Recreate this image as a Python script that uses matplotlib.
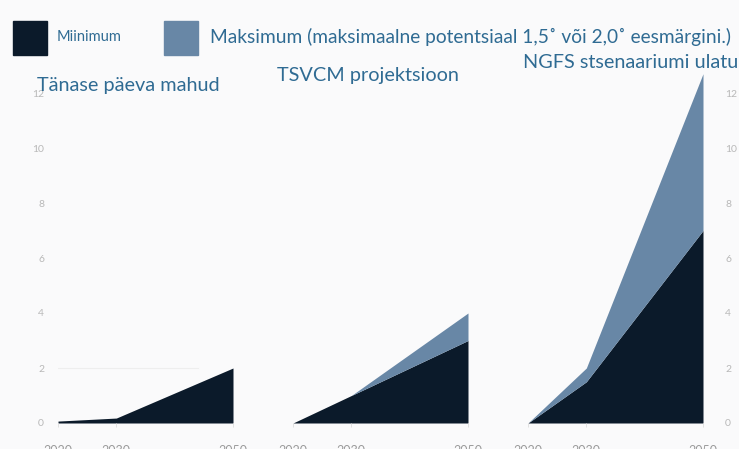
import matplotlib.pyplot as plt
from matplotlib.patches import Rectangle

plt.ioff()
plt.rcParams['font.family'] = ['Lato', 'DejaVu Sans']

# data
years = [2020, 2030, 2050]
panel_titles = ["Tänase päeva mahud", "TSVCM projektsioon", "NGFS stsenaariumi ulatus"]
today_min = [0.07, 0.18, 2.0]
today_max = [0.07, 0.18, 2.0]
tsvcm_min = [0.0, 1.0, 3.0]
tsvcm_max = [0.0, 1.0, 4.0]
ngfs_min = [0.0, 1.5, 7.0]
ngfs_max = [0.0, 2.0, 12.7]
y_ticks = [0, 2, 4, 6, 8, 10, 12]
x_ticks = [2020, 2030, 2050]
legend_labels = ["Miinimum", "Maksimum (maksimaalne potentsiaal 1,5˚ või 2,0˚ eesmärgini.)"]

DARK = '#0b1a2a'
LIGHT = '#6887a6'
TXT = '#2f6b93'
TICK = '#b8b8b8'
BG = '#fafafb'

W, H = 739, 449
fig = plt.figure(figsize=(W / 100, H / 100), dpi=100)
fig.patch.set_facecolor(BG)

mins = [today_min, tsvcm_min, ngfs_min]
maxs = [today_max, tsvcm_max, ngfs_max]
lefts = [58, 293, 528]
title_pos = [(37, 85), (277, 76), (523, 63)]
y0_px, px_per_unit = 423, 27.5
ytop = 12.8

for i in range(3):
    ax = fig.add_axes([lefts[i] / W, (H - y0_px) / H, 175 / W, ytop * px_per_unit / H])
    ax.set_facecolor(BG)
    ax.fill_between(years, 0, mins[i], color=DARK, lw=0)
    ax.fill_between(years, mins[i], maxs[i], color=LIGHT, lw=0)
    ax.set_xlim(2020, 2050)
    ax.set_ylim(0, ytop)
    for s in ax.spines.values():
        s.set_visible(False)
    ax.set_xticks(x_ticks)
    ax.set_xticklabels([str(t) for t in x_ticks])
    ax.tick_params(axis='x', colors='#dddddd', labelcolor='#9a9a9a', length=3, width=0.6,
                   pad=13, labelsize=9)
    ax.set_yticks(y_ticks)
    if i == 0:
        ax.tick_params(axis='y', length=0, pad=10, labelcolor=TICK, labelsize=7.5)
        ax.axhline(2, xmin=0, xmax=0.8, color='#eeeeee', lw=0.8, zorder=0)
    elif i == 2:
        ax.yaxis.tick_right()
        ax.tick_params(axis='y', length=0, pad=16, labelcolor=TICK, labelsize=7.5)
    else:
        ax.set_yticklabels([])
        ax.tick_params(axis='y', length=0)
    tx, ty = title_pos[i]
    fig.text(tx / W, 1 - ty / H, panel_titles[i], color=TXT, fontsize=14.3,
             ha='left', va='center')

# legend
fig.patches.append(Rectangle((13 / W, 1 - 55 / H), 34 / W, 34 / H, color=DARK,
                             transform=fig.transFigure, figure=fig))
fig.patches.append(Rectangle((164 / W, 1 - 55 / H), 34 / W, 34 / H, color=LIGHT,
                             transform=fig.transFigure, figure=fig))
fig.text(57 / W, 1 - 37 / H, legend_labels[0], color=TXT, fontsize=10.5, ha='left', va='center')
fig.text(210 / W, 1 - 37 / H, legend_labels[1], color=TXT, fontsize=13.8, ha='left', va='center')

fig.savefig('out.png', dpi=100, facecolor=BG)
